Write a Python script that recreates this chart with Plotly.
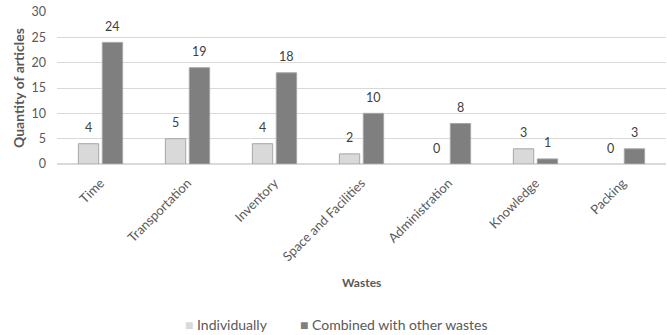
import plotly.graph_objects as go

categories = ["Time", "Transportation", "Inventory", "Space and Facilities",
              "Administration", "Knowledge", "Packing"]
individually = [4, 5, 4, 2, 0, 3, 0]
combined = [24, 19, 18, 10, 8, 1, 3]
y_ticks = [0, 5, 10, 15, 20, 25, 30]
series_names = ["Individually", "Combined with other wastes"]
series_colors = ["#d9d9d9", "#7f7f7f"]

FONT = "Lato, Carlito, 'Open Sans', sans-serif"
TXT = "#595959"
LBL = "#404040"

fig = go.Figure()
for name, vals, col in zip(series_names, [individually, combined], series_colors):
    fig.add_trace(go.Bar(name=name, x=categories, y=vals,
                         marker=dict(color=col,
                                     line=dict(color="#a6a6a6",
                                               width=[1 if v > 0 else 0 for v in vals]))))

annotations = []
for shift, vals in zip([-12, 12], [individually, combined]):
    for cat, v in zip(categories, vals):
        annotations.append(dict(x=cat, y=v, text=str(v), xref="x", yref="y", showarrow=False,
                                xshift=shift, yshift=16, yanchor="middle", xanchor="center",
                                font=dict(size=12.5, color=LBL, family=FONT)))
annotations.append(dict(x=0.5, y=-0.78, xref="paper", yref="paper", text="<b>Wastes</b>",
                        showarrow=False, xanchor="center", yanchor="middle",
                        font=dict(size=12, color=TXT, family=FONT)))
annotations.append(dict(x=-0.064, y=0.5, xref="paper", yref="paper",
                        text="<b>Quantity of articles</b>", textangle=-90,
                        xanchor="center", yanchor="middle",
                        showarrow=False, font=dict(size=14, color=TXT, family=FONT)))
# legend as text items
for name, col, px in zip(series_names, series_colors, [0.2066, 0.395]):
    annotations.append(dict(x=px, y=-1.059, xref="paper", yref="paper", xanchor="left",
                            yanchor="middle", showarrow=False,
                            text=f"<span style='color:{col}'>■</span> {name}",
                            font=dict(size=14, color=TXT, family=FONT)))

fig.update_layout(
    width=667, height=335,
    margin=dict(l=57, r=1, t=12, b=171),
    paper_bgcolor="white", plot_bgcolor="white",
    barmode="group", bargap=0.45, bargroupgap=0.15,
    font=dict(family=FONT, color=TXT, size=12),
    showlegend=False,
    annotations=annotations,
)
fig.update_xaxes(tickangle=-45, showgrid=False, showline=False, ticks="",
                 automargin=False, ticklabelstandoff=8,
                 tickfont=dict(size=13, color=TXT, family=FONT))
fig.update_yaxes(range=[0, 30], tickvals=y_ticks, showgrid=True, gridcolor="#d9d9d9",
                 zeroline=True, zerolinecolor="#d9d9d9", showline=False, ticks="",
                 automargin=False, ticklabelstandoff=10,
                 tickfont=dict(size=12.5, color=TXT, family=FONT))

fig.write_html("out.html")
